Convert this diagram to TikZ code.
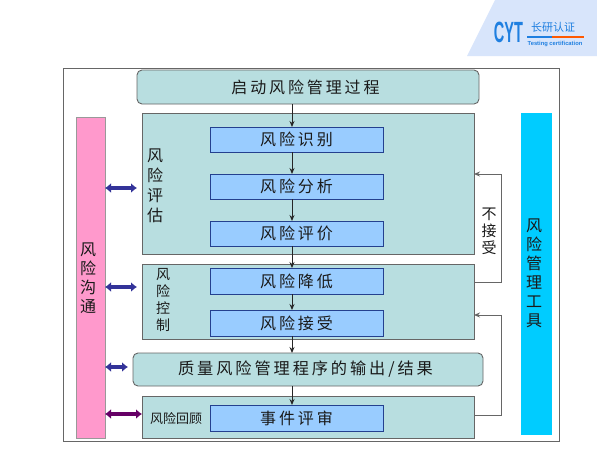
\documentclass[tikz,border=0pt]{standalone}
\usepackage{fontspec}
\setmainfont{Liberation Sans}
\newfontfamily\cjk[LetterSpace=18]{Noto Sans CJK SC}
\newfontfamily\cjkplain{Noto Sans CJK SC}
\usetikzlibrary{arrows.meta}
\definecolor{teal1}{HTML}{B8DEE0}
\definecolor{blue1}{HTML}{99CCFF}
\definecolor{edge1}{HTML}{24408F}
\definecolor{pink1}{HTML}{FF99CC}
\definecolor{cyan1}{HTML}{00CCFF}
\definecolor{navy1}{HTML}{333399}
\definecolor{purp1}{HTML}{660066}
\definecolor{logo1}{HTML}{D8E5FB}
\definecolor{logo2}{HTML}{1F7FE0}
\definecolor{txt1}{HTML}{1A1A1A}
\tikzset{
  box/.style={draw=#1,line width=0.9pt,inner sep=0pt,outer sep=0pt,text=txt1},
  panel/.style={box=black!60,fill=teal1},
  round box/.style={panel,rounded corners=5pt},
  step box/.style={draw=edge1,line width=0.8pt,fill=blue1,inner sep=0pt,outer sep=0pt,minimum width=173pt,text=txt1,font=\cjk\fontsize{16}{16}\selectfont},
  side/.style={inner sep=0pt,outer sep=0pt,text=txt1,align=center},
  flow/.style={draw=black!85,line width=0.9pt,-{Stealth[length=6pt,width=5pt]}},
  back/.style={draw=black!60,line width=0.9pt,-{Stealth[length=6pt,width=5pt]}},
  both/.style={draw=#1,line width=3.6pt,{Latex[length=6pt,width=10pt]}-{Latex[length=6pt,width=10pt]}},
}
\begin{document}
\begin{tikzpicture}[x=1pt,y=-1pt]
\useasboundingbox (0,0) rectangle (597,453);
\fill[white] (0,0) rectangle (597,453);
% logo
\fill[logo1] (467,56) -- (495,0) -- (597,0) -- (597,56) -- cycle;
\node[inner sep=0pt,text=logo2,font=\bfseries\fontsize{22}{22}\selectfont] (cyt) at (508.5,32.5) {\scalebox{0.66}[1.33]{CYT}};
\node[inner sep=0pt,text=logo2,font=\cjkplain\fontsize{11}{11}\selectfont] (cn) at (553,27) {长研认证};
\fill[logo2] (527,35.5) rectangle (552,38);
\fill[orange!70!red] (552,35.5) rectangle (584,38);
\node[inner sep=0pt,text=logo2,font=\bfseries\fontsize{5.8}{6}\selectfont] (en) at (555,44.5) {Testing certification};
% frame
\node[draw=black!60,line width=1pt,inner sep=0pt,minimum width=496pt,minimum height=373pt] (frame) at (311,254.5) {};
% main panels
\node[round box,minimum width=342pt,minimum height=34pt,font=\cjk\fontsize{16}{16}\selectfont] (start) at (308,87) {启动风险管理过程\kern5pt};
\node[panel,minimum width=332pt,minimum height=141pt] (assess) at (308,183.5) {};
\node[panel,minimum width=332pt,minimum height=75pt] (control) at (308,301.5) {};
\node[round box,minimum width=350pt,minimum height=33pt,font=\cjk\fontsize{16.2}{16}\selectfont] (output) at (308,369.5) {\raisebox{-1.5pt}{质量风险管理程序的输出/结果}\kern5pt};
\node[panel,minimum width=332pt,minimum height=42pt] (review) at (308,417) {};
% steps
\node[step box,minimum height=25pt] (s1) at (296.5,139.5) {风险识别};
\node[step box,minimum height=25pt] (s2) at (296.5,186.5) {风险分析};
\node[step box,minimum height=25pt] (s3) at (296.5,233.5) {风险评价};
\node[step box,minimum height=26pt] (s4) at (296.5,281) {风险降低};
\node[step box,minimum height=26pt] (s5) at (296.5,323) {风险接受};
\node[step box,minimum height=26pt] (s6) at (296.5,418) {事件评审};
% side bars
\node[box=black!40,fill=pink1,minimum width=29pt,minimum height=321pt] (pink) at (90.5,277.5) {};
\node[box=cyan1,fill=cyan1,minimum width=30pt,minimum height=321pt] (tools) at (536,273.5) {};
\node[side,font=\cjkplain\fontsize{16}{19}\selectfont] (lp) at (88,278) {风\\险\\沟\\通};
\node[side,font=\cjkplain\fontsize{16}{19}\selectfont] (lt) at (534,273) {风\\险\\管\\理\\工\\具};
% side labels
\node[side,font=\cjkplain\fontsize{16}{20}\selectfont] (la) at (155,185.5) {风\\险\\评\\估};
\node[side,font=\cjkplain\fontsize{14}{17}\selectfont] (lc) at (163,300.5) {风\\险\\控\\制};
\node[side,font=\cjkplain\fontsize{13}{13}\selectfont] (lr) at (176,419) {风险回顾};
\node[side,font=\cjkplain\fontsize{15}{17}\selectfont] (lu) at (489,231) {不\\接\\受};
% vertical flow
\coordinate (fx) at (292,0);
\draw[flow] (start.south -| fx) -- (s1.north -| fx);
\draw[flow] (s1.south -| fx) -- (s2.north -| fx);
\draw[flow] (s2.south -| fx) -- (s3.north -| fx);
\draw[flow] (s3.south -| fx) -- (s4.north -| fx);
\draw[flow] (s4.south -| fx) -- (s5.north -| fx);
\draw[flow] (s5.south -| fx) -- (output.north -| fx);
\draw[flow] (output.south -| fx) -- (s6.north -| fx);
% feedback
\coordinate (f1a) at (501,282);
\coordinate (f1b) at (501,174);
\coordinate (f2a) at (501,415);
\coordinate (f2b) at (501,315);
\draw[back] (control.east |- f1a) -- (f1a) -- (f1b) -- (assess.east |- f1b);
\draw[back] (review.east |- f2a) -- (f2a) -- (f2b) -- (control.east |- f2b);
% communication arrows
\coordinate (c1) at (137,188);
\coordinate (c2) at (137,287);
\coordinate (c3) at (128,367);
\coordinate (c4) at (142,414);
\draw[both=navy1] (pink.east |- c1) -- (c1);
\draw[both=navy1] (pink.east |- c2) -- (c2);
\draw[both=navy1] (pink.east |- c3) -- (c3);
\draw[both=purp1] (pink.east |- c4) -- (review.west |- c4);
\end{tikzpicture}
\end{document}
